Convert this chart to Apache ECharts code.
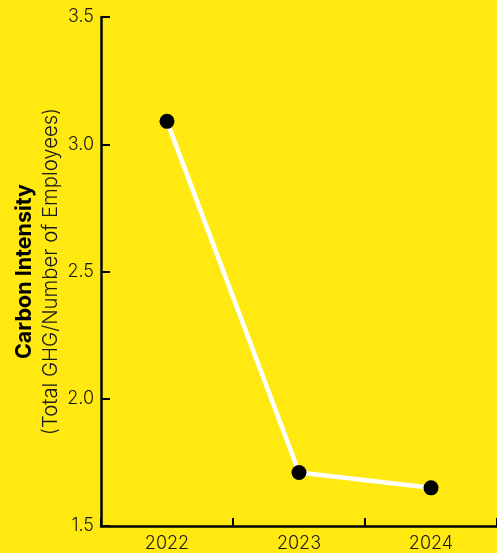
<!DOCTYPE html>
<html>
<head>
<meta charset="utf-8">
<script src="https://cdn.jsdelivr.net/npm/echarts@6/dist/echarts.min.js"></script>
<style>
html,body{margin:0;padding:0;background:#FFE910;}
#main{width:497px;height:553px;}
</style>
</head>
<body>
<div id="main"></div>
<script>
// 年份
var years = ['2022', '2023', '2024'];
// 碳强度 (Total GHG / Number of Employees)
var intensity = [3.09, 1.71, 1.65];
// y轴刻度
var yMin = 1.5, yMax = 3.5, yStep = 0.5;

var myChart = echarts.init(document.getElementById('main'));
var option = {
	backgroundColor: '#FFE910',
	textStyle: {fontFamily: 'Inter'},
	grid: {
		left: 101,
		top: 17,
		width: 402,
		height: 509
	},
	xAxis: {
		type: 'category',
		data: years,
		boundaryGap: true,
		axisLine: {lineStyle: {color: '#000', width: 2.5}},
		axisTick: {show: true, inside: true, length: 8, lineStyle: {color: '#000', width: 2}},
		axisLabel: {color: '#1a1a1a', fontSize: 18, fontWeight: 300, margin: 9, fontFamily: 'Inter'},
		splitLine: {show: false}
	},
	yAxis: {
		type: 'value',
		min: yMin,
		max: yMax,
		interval: yStep,
		name: '{a|Carbon Intensity}\n{b|(Total GHG/Number of Employees)}',
		nameLocation: 'middle',
		nameRotate: 90,
		nameGap: 37,
		nameMoveOverlap: false,
		nameTextStyle: {
			rich: {
				a: {fontSize: 21.5, fontWeight: 'bold', color: '#000', fontFamily: 'Inter', lineHeight: 26},
				b: {fontSize: 20.3, fontWeight: 300, color: '#1a1a1a', fontFamily: 'Inter', lineHeight: 26}
			}
		},
		axisLine: {show: true, lineStyle: {color: '#000', width: 2.5}},
		axisTick: {show: true, inside: true, length: 9, lineStyle: {color: '#000', width: 2}},
		axisLabel: {
			color: '#1a1a1a', fontSize: 18, fontWeight: 300, margin: 7, fontFamily: 'Inter',
			formatter: function (v) { return v.toFixed(1); }
		},
		splitLine: {show: false}
	},
	series: [{
		type: 'line',
		data: intensity,
		symbol: 'circle',
		symbolSize: 15,
		itemStyle: {color: '#000'},
		lineStyle: {color: '#fff', width: 4.5},
		z: 3
	}]
};
myChart.setOption(option);
</script>
</body>
</html>
